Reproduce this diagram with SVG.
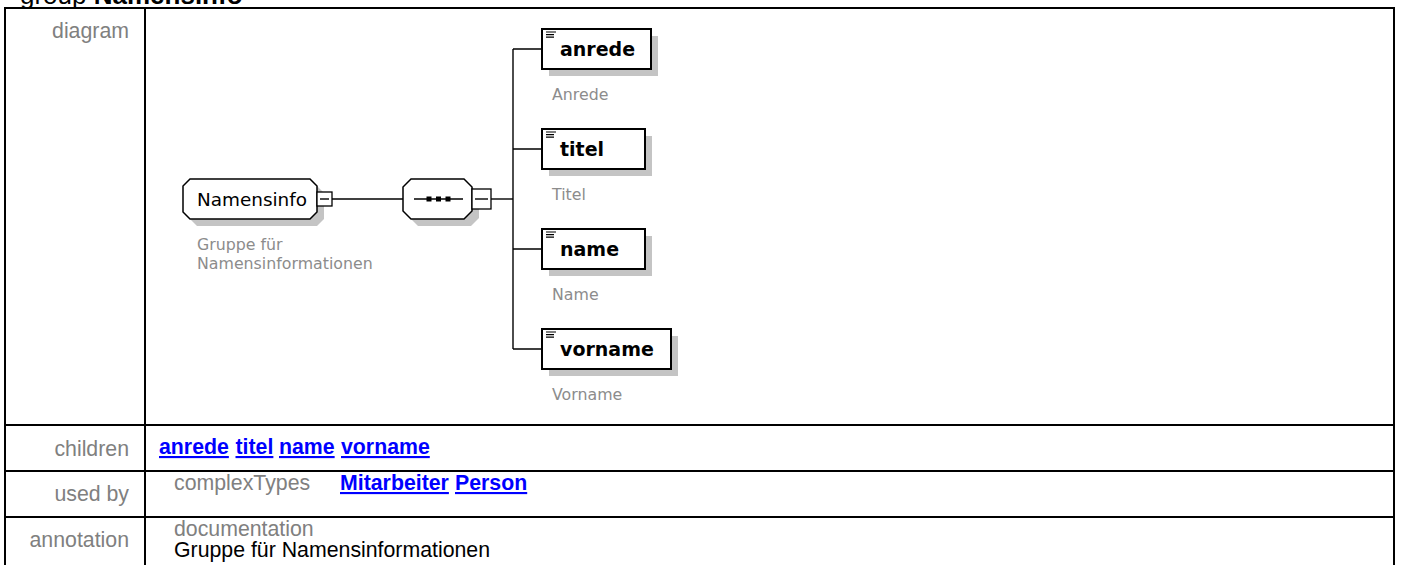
<svg xmlns="http://www.w3.org/2000/svg" width="1401" height="565" viewBox="0 0 1401 565">
<style>
  .lbl { font-family: "Liberation Sans", Arial, sans-serif; font-size: 21.3px; fill: #808080; }
  .lblr { text-anchor: end; }
  .lnk { font-family: "Liberation Sans", Arial, sans-serif; font-size: 21.3px; font-weight: bold; fill: #0000FF; text-decoration: underline; }
  .txt { font-family: "Liberation Sans", Arial, sans-serif; font-size: 21.3px; fill: #000000; }
  .hdr { font-family: "Liberation Sans", Arial, sans-serif; font-size: 26px; fill: #000000; }
  .tline { stroke: #000000; stroke-width: 2; fill: none; }
  .shadow { fill: #c4c4c4; stroke: none; }
  .box { fill: #ffffff; stroke: #000000; stroke-width: 2; }
  .oct { fill: #ffffff; stroke: #000000; stroke-width: 1.5; }
  .minus { fill: #ffffff; stroke: #000000; stroke-width: 1.3; }
  .conn { stroke: #000000; stroke-width: 1.4; fill: none; }
  .ename { font-family: "DejaVu Sans", Verdana, sans-serif; font-size: 19px; font-weight: bold; fill: #000000; }
  .gname { font-family: "DejaVu Sans", Verdana, sans-serif; font-size: 18.4px; fill: #000000; }
  .ann { font-family: "DejaVu Sans", Verdana, sans-serif; font-size: 15.8px; fill: #8c8c8c; }
  .icon { stroke: #000000; stroke-width: 1.2; }
</style>
<rect x="0" y="0" width="1401" height="565" fill="#ffffff"/>

<g id="header">
  <text class="hdr" x="20" y="4">group <tspan font-weight="bold">Namensinfo</tspan></text>
</g>

<g id="table">
  <path class="tline" d="M5,8 H1394 M5,7 V565 M1394,7 V565 M145,8 V565 M5,425 H1394 M5,471 H1394 M5,517 H1394"/>
  <text class="lbl lblr" x="129" y="38">diagram</text>
  <text class="lbl lblr" x="129" y="456">children</text>
  <text class="lbl lblr" x="129" y="501">used by</text>
  <text class="lbl lblr" x="129" y="547">annotation</text>
  <text class="lnk" x="159" y="454">anrede</text>
  <text class="lnk" x="235.5" y="454">titel</text>
  <text class="lnk" x="279" y="454">name</text>
  <text class="lnk" x="341" y="454">vorname</text>
  <text class="lbl" x="174" y="490">complexTypes</text>
  <text class="lnk" x="340" y="490">Mitarbeiter</text>
  <text class="lnk" x="455" y="490">Person</text>
  <text class="lbl" x="174" y="536">documentation</text>
  <text class="txt" x="174" y="557">Gruppe für Namensinformationen</text>
</g>

<g id="connectors">
  <path class="conn" d="M332,199 H403"/>
  <path class="conn" d="M491,199 H513"/>
  <path class="conn" d="M513,49 V349"/>
  <path class="conn" d="M513,49 H542 M513,149 H542 M513,249 H542 M513,349 H542"/>
</g>

<g id="node-namensinfo">
  <path class="shadow" d="M197,186 H317 L324,193 V219 L317,226 H197 L190,219 V193 Z"/>
  <path class="oct" d="M190,179 H310 L317,186 V212 L310,219 H190 L183,212 V186 Z"/>
  <text class="gname" x="197" y="206">Namensinfo</text>
  <rect class="minus" x="317" y="192" width="15" height="14"/>
  <path class="conn" d="M320,199 H329"/>
  <text class="ann" x="197" y="250">Gruppe für</text>
  <text class="ann" x="197" y="269">Namensinformationen</text>
</g>

<g id="node-sequence">
  <path class="shadow" d="M418,186 H471 L479,194 V218 L471,226 H418 L410,218 V194 Z"/>
  <path class="oct" d="M411,179 H464 L472,187 V211 L464,219 H411 L403,211 V187 Z"/>
  <path class="conn" d="M414,199 H463"/>
  <rect x="426.5" y="196.5" width="5" height="5" fill="#000000"/>
  <rect x="436" y="196.5" width="5" height="5" fill="#000000"/>
  <rect x="445.5" y="196.5" width="5" height="5" fill="#000000"/>
  <rect class="minus" x="472" y="189" width="19" height="20"/>
  <path class="conn" d="M475,199 H488"/>
</g>

<g id="node-anrede">
  <rect class="shadow" x="549" y="36" width="109" height="40"/>
  <rect class="box" x="542" y="29" width="109" height="40"/>
  <path class="icon" d="M546,32 H556 M546,34.6 H554 M546,37.2 H554"/>
  <text class="ename" x="560" y="56">anrede</text>
  <text class="ann" x="552" y="100">Anrede</text>
</g>

<g id="node-titel">
  <rect class="shadow" x="549" y="136" width="103" height="40"/>
  <rect class="box" x="542" y="129" width="103" height="40"/>
  <path class="icon" d="M546,132 H556 M546,134.6 H554 M546,137.2 H554"/>
  <text class="ename" x="560" y="156">titel</text>
  <text class="ann" x="552" y="200">Titel</text>
</g>

<g id="node-name">
  <rect class="shadow" x="549" y="236" width="103" height="40"/>
  <rect class="box" x="542" y="229" width="103" height="40"/>
  <path class="icon" d="M546,232 H556 M546,234.6 H554 M546,237.2 H554"/>
  <text class="ename" x="560" y="256">name</text>
  <text class="ann" x="552" y="300">Name</text>
</g>

<g id="node-vorname">
  <rect class="shadow" x="549" y="336" width="129" height="40"/>
  <rect class="box" x="542" y="329" width="129" height="40"/>
  <path class="icon" d="M546,332 H556 M546,334.6 H554 M546,337.2 H554"/>
  <text class="ename" x="560" y="356">vorname</text>
  <text class="ann" x="552" y="400">Vorname</text>
</g>
</svg>
